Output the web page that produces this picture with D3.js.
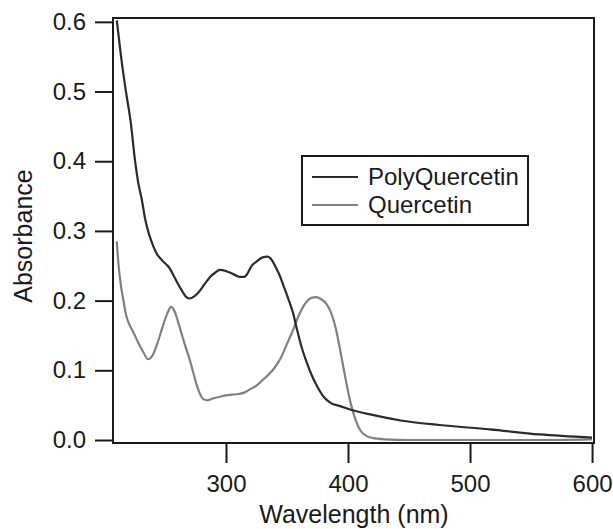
<!DOCTYPE html>
<html>
<head>
<meta charset="utf-8">
<script src="https://cdn.jsdelivr.net/npm/d3@7"></script>
<style>
  html, body { margin: 0; padding: 0; background: #fff; }
  svg text { font-family: "Liberation Sans", Arial, Helvetica, sans-serif; fill: #1a1a1a; }
</style>
</head>
<body>
<svg id="chart" width="613" height="529"></svg>
<script>
// ---- data ----
const polyWavelength = [210.5, 214, 218, 222, 225.5, 228, 231, 234, 237, 240, 243, 247, 251, 254, 257, 260, 264, 267, 270, 274, 279, 283, 287, 291, 295, 299, 302, 306, 311, 315, 318, 321, 325, 330, 334, 338, 341, 344, 347, 351, 355, 358, 362, 366, 370, 375, 380, 386, 393, 403, 420, 443, 475, 516, 557, 600];
const polyAbsorbance = [0.602, 0.55, 0.50, 0.455, 0.40, 0.37, 0.345, 0.315, 0.295, 0.28, 0.268, 0.259, 0.252, 0.246, 0.236, 0.226, 0.214, 0.206, 0.203, 0.206, 0.215, 0.225, 0.234, 0.240, 0.244, 0.243, 0.241, 0.238, 0.234, 0.234, 0.240, 0.250, 0.256, 0.262, 0.263, 0.257, 0.247, 0.236, 0.222, 0.203, 0.182, 0.160, 0.133, 0.112, 0.094, 0.076, 0.062, 0.053, 0.049, 0.043, 0.036, 0.028, 0.0215, 0.0153, 0.008, 0.0034];

const querWavelength = [210.5, 212, 214, 216, 218, 221, 224, 228, 232, 236, 240, 244, 248, 252, 255, 258, 261, 264, 267, 270, 273, 276, 279, 282, 285, 290, 295, 300, 305, 310, 315, 320, 325, 330, 335, 340, 345, 350, 355, 360, 365, 370, 374, 378, 382, 386, 390, 394, 398, 402, 406, 410, 415, 420, 430, 450, 500, 550, 600];
const querAbsorbance = [0.285, 0.25, 0.22, 0.20, 0.18, 0.165, 0.155, 0.14, 0.127, 0.116, 0.122, 0.140, 0.162, 0.182, 0.191, 0.184, 0.168, 0.150, 0.133, 0.117, 0.098, 0.079, 0.065, 0.058, 0.057, 0.060, 0.062, 0.064, 0.065, 0.066, 0.068, 0.073, 0.078, 0.086, 0.094, 0.104, 0.118, 0.138, 0.158, 0.180, 0.196, 0.204, 0.205, 0.202, 0.196, 0.183, 0.160, 0.125, 0.088, 0.054, 0.030, 0.014, 0.006, 0.003, 0.001, 0.0, 0.0, 0.0, 0.001];

const seriesNames = ["PolyQuercetin", "Quercetin"];
const seriesColors = ["#2b2b2b", "#808080"];
const xTicks = [300, 400, 500, 600];
const yTicks = [0.0, 0.1, 0.2, 0.3, 0.4, 0.5, 0.6];
const xTitle = "Wavelength (nm)";
const yTitle = "Absorbance";

// ---- layout ----
const svg = d3.select("#chart");
const pLeft = 113, pRight = 594, pTop = 18, pBottom = 443;
const tickFont = 24, titleFont = 25;

const x = d3.scaleLinear().domain([207.4, 601.6]).range([pLeft, pRight]);
const y = d3.scaleLinear().domain([-0.0043, 0.6055]).range([pBottom, pTop]);

const series = [
  { name: seriesNames[0], color: seriesColors[0], xs: polyWavelength, ys: polyAbsorbance },
  { name: seriesNames[1], color: seriesColors[1], xs: querWavelength, ys: querAbsorbance }
];

svg.append("defs").append("clipPath").attr("id", "plotclip")
  .append("rect").attr("x", pLeft).attr("y", pTop).attr("width", pRight - pLeft).attr("height", pBottom - pTop);

const line = d3.line().x(d => x(d[0])).y(d => y(d[1])).curve(d3.curveMonotoneX);

[series[1], series[0]].forEach(s => {
  const pts = s.xs.map((v, i) => [v, s.ys[i]]);
  svg.append("path")
    .attr("clip-path", "url(#plotclip)")
    .attr("d", line(pts))
    .attr("fill", "none")
    .attr("stroke", s.color)
    .attr("stroke-width", 2.2)
    .attr("stroke-linejoin", "round");
});

svg.append("rect")
  .attr("x", pLeft).attr("y", pTop)
  .attr("width", pRight - pLeft).attr("height", pBottom - pTop)
  .attr("fill", "none").attr("stroke", "#1a1a1a").attr("stroke-width", 2);

const xAxis = d3.axisBottom(x).tickValues(xTicks).tickFormat(d3.format("d")).tickSize(20).tickSizeOuter(0).tickPadding(12);
const gx = svg.append("g").attr("transform", `translate(0,${pBottom})`).call(xAxis);
gx.select(".domain").remove();
gx.selectAll(".tick line").attr("stroke", "#1a1a1a").attr("stroke-width", 2);
gx.selectAll(".tick text").attr("font-size", tickFont).attr("fill", "#1a1a1a")
  .attr("font-family", "Liberation Sans, Arial, sans-serif");

const yAxis = d3.axisLeft(y).tickValues(yTicks).tickFormat(d3.format(".1f")).tickSize(18).tickSizeOuter(0).tickPadding(9);
const gy = svg.append("g").attr("transform", `translate(${pLeft},0)`).call(yAxis);
gy.select(".domain").remove();
gy.selectAll(".tick line").attr("stroke", "#1a1a1a").attr("stroke-width", 2);
gy.selectAll(".tick text").attr("font-size", tickFont).attr("fill", "#1a1a1a")
  .attr("font-family", "Liberation Sans, Arial, sans-serif");

svg.append("text")
  .attr("x", 354).attr("y", 523)
  .attr("text-anchor", "middle")
  .attr("font-size", titleFont)
  .text(xTitle);

svg.append("text")
  .attr("transform", "translate(32,236) rotate(-90)")
  .attr("text-anchor", "middle")
  .attr("font-size", titleFont)
  .text(yTitle);

const lg = svg.append("g");
lg.append("rect")
  .attr("x", 302).attr("y", 156).attr("width", 226).attr("height", 69)
  .attr("fill", "#fff").attr("stroke", "#1a1a1a").attr("stroke-width", 2);
series.forEach((s, i) => {
  const ly = 177 + i * 28;
  lg.append("line")
    .attr("x1", 312).attr("x2", 358).attr("y1", ly).attr("y2", ly)
    .attr("stroke", s.color).attr("stroke-width", 2.2);
  lg.append("text")
    .attr("x", 368).attr("y", ly).attr("dy", "0.35em")
    .attr("font-size", tickFont)
    .text(s.name);
});
</script>
</body>
</html>
